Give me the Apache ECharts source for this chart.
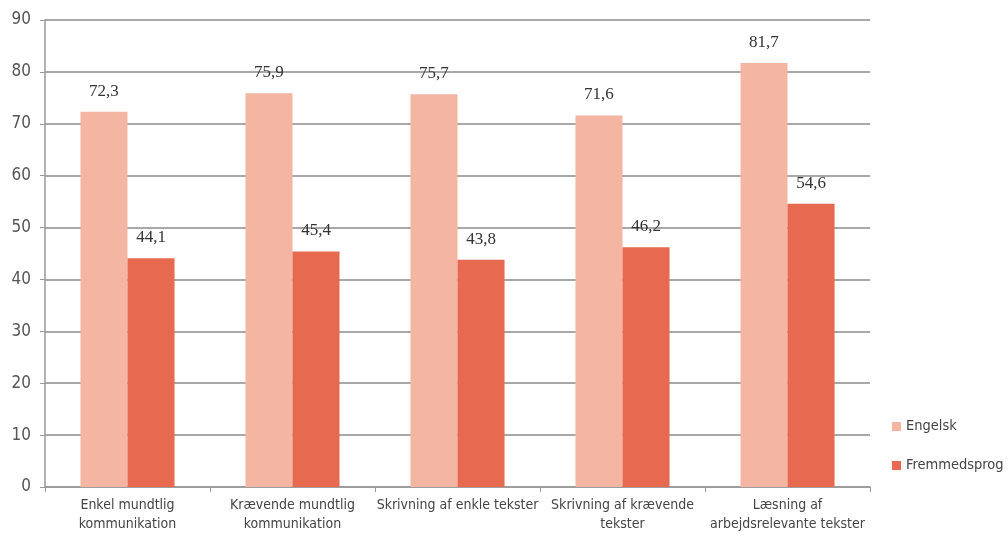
<!DOCTYPE html>
<html>
<head>
<meta charset="utf-8">
<script src="https://cdn.jsdelivr.net/npm/echarts@6/dist/echarts.min.js"></script>
<style>
  html, body { margin: 0; padding: 0; background: #fff; }
  #chart { width: 1008px; height: 541px; }
</style>
</head>
<body>
<div id="chart"></div>
<script>
// Kompetenceområder (kategorier) og andel for hvert sprog
const categories = [
  'Enkel mundtlig\nkommunikation',
  'Krævende mundtlig\nkommunikation',
  'Skrivning af enkle tekster',
  'Skrivning af krævende\ntekster',
  'Læsning af\narbejdsrelevante tekster'
];
const engelsk = [72.3, 75.9, 75.7, 71.6, 81.7];
const fremmedsprog = [44.1, 45.4, 43.8, 46.2, 54.6];
const seriesNames = ['Engelsk', 'Fremmedsprog'];
const yTicks = { min: 0, max: 90, interval: 10 };

const condensed = '"DejaVu Sans Condensed", "Liberation Sans Narrow", sans-serif';
const serif = '"Liberation Serif", "DejaVu Serif", serif';
const fmt = p => String(p.value).replace('.', ',');

const valueLabel = {
  show: true,
  position: 'top',
  distance: 12,
  formatter: fmt,
  fontFamily: serif,
  fontSize: 17,
  color: '#333'
};

const chart = echarts.init(document.getElementById('chart'));
chart.setOption({
  animation: false,
  grid: { left: 45, right: 138, top: 20, bottom: 54 },
  legend: {
    orient: 'vertical',
    left: 887,
    top: 414,
    itemWidth: 9,
    itemHeight: 9,
    itemGap: 24,
    icon: 'rect',
    textStyle: { fontFamily: condensed, fontSize: 14.5, color: '#444' },
    data: seriesNames
  },
  xAxis: {
    type: 'category',
    data: categories,
    axisLine: { lineStyle: { color: '#999', width: 1.5 } },
    axisTick: { show: true, length: 5, lineStyle: { color: '#999' } },
    axisLabel: {
      fontFamily: condensed,
      fontSize: 14,
      color: '#444',
      lineHeight: 19,
      margin: 9,
      interval: 0
    }
  },
  yAxis: {
    type: 'value',
    min: yTicks.min,
    max: yTicks.max,
    interval: yTicks.interval,
    axisLine: { show: true, lineStyle: { color: '#999', width: 1.5 } },
    axisTick: { show: true, length: 5, lineStyle: { color: '#999' } },
    splitLine: { lineStyle: { color: '#a8a8a8', width: 2 } },
    axisLabel: {
      fontFamily: condensed,
      fontSize: 17,
      color: '#555',
      margin: 14
    }
  },
  series: [
    {
      name: seriesNames[0],
      type: 'bar',
      data: engelsk,
      barGap: '0%',
      barCategoryGap: '43%',
      itemStyle: { color: '#F4B6A3' },
      label: valueLabel
    },
    {
      name: seriesNames[1],
      type: 'bar',
      data: fremmedsprog,
      itemStyle: { color: '#E7694F' },
      label: valueLabel
    }
  ]
});
</script>
</body>
</html>
